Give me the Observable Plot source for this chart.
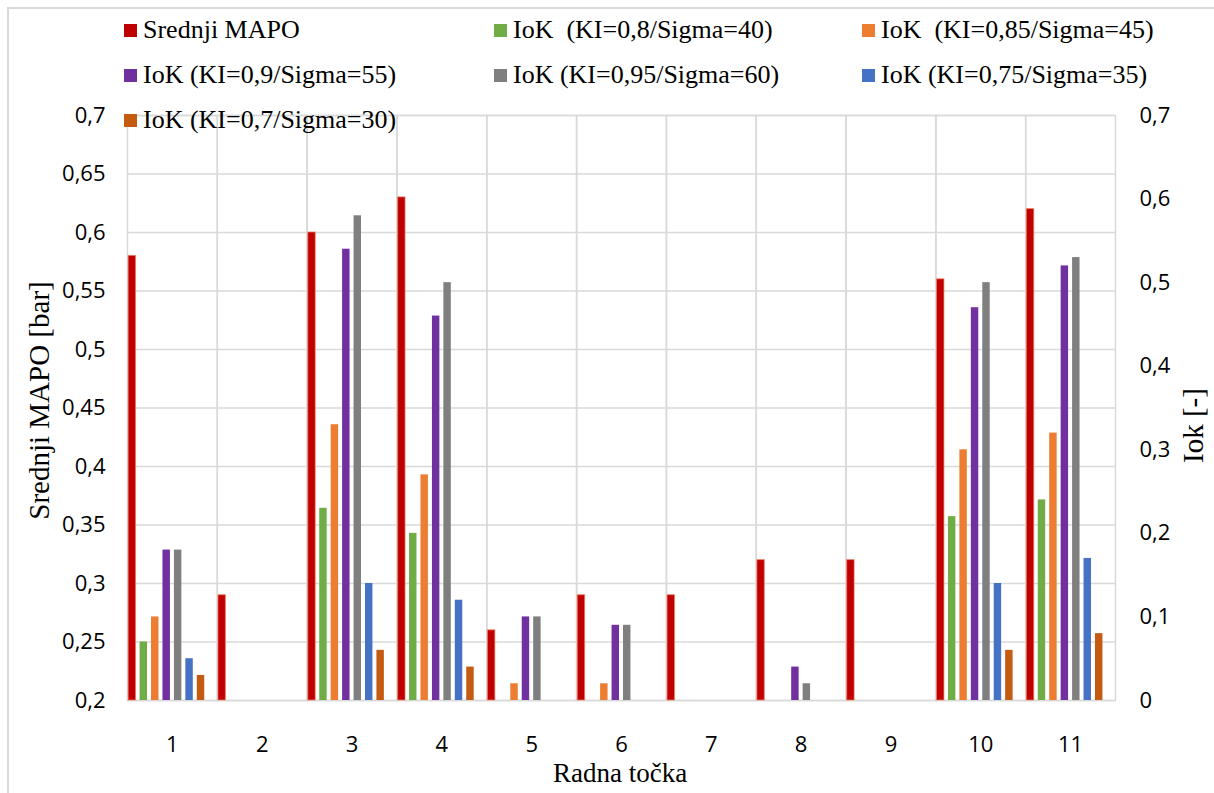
<!DOCTYPE html>
<html>
<head>
<meta charset="utf-8">
<script src="https://cdn.jsdelivr.net/npm/d3@7"></script>
<script src="https://cdn.jsdelivr.net/npm/@observablehq/plot@0.6"></script>
<style>
  html, body { margin: 0; padding: 0; background: #fff; overflow: hidden; }
  #wrap { position: relative; width: 1214px; height: 793px; overflow: hidden; }
  #border { position: absolute; left: 7px; top: 7px; width: 1400px; height: 1000px; border: 2px solid #d9d9d9; box-sizing: border-box; }
  #chart { position: absolute; left: 0; top: 0; }
  .serif { font-family: "Liberation Serif", "Tinos", "Times New Roman", "DejaVu Serif", "Noto Serif", serif; }
  .leg { position: absolute; font-size: 26px; color: #000; white-space: pre; line-height: 1; transform: translateY(-50%); }
  .leg i { display: inline-block; width: 13px; height: 13px; margin-right: 6px; vertical-align: 1px; }
  .title { position: absolute; font-size: 29px; color: #000; white-space: nowrap; line-height: 1; }
</style>
</head>
<body>
<div id="wrap">
  <div id="border"></div>
  <div id="chart"></div>
</div>
<script>
// ---- data ----
const categories = ["1", "2", "3", "4", "5", "6", "7", "8", "9", "10", "11"];
const seriesNames = [
  "Srednji MAPO",
  "IoK  (KI=0,8/Sigma=40)",
  "IoK  (KI=0,85/Sigma=45)",
  "IoK (KI=0,9/Sigma=55)",
  "IoK (KI=0,95/Sigma=60)",
  "IoK (KI=0,75/Sigma=35)",
  "IoK (KI=0,7/Sigma=30)"
];
const seriesColors = ["#C00000", "#70AD47", "#ED7D31", "#7030A0", "#7F7F7F", "#4472C4", "#C55A11"];

// Srednji MAPO [bar] (left axis)
const mapo    = [0.58, 0.29, 0.60, 0.63, 0.26, 0.29, 0.29, 0.32, 0.32, 0.56, 0.62];
// IoK [-] (right axis)
const iok08   = [0.07, null, 0.23, 0.20, null, null, null, null, null, 0.22, 0.24];
const iok085  = [0.10, null, 0.33, 0.27, 0.02, 0.02, null, null, null, 0.30, 0.32];
const iok09   = [0.18, null, 0.54, 0.46, 0.10, 0.09, null, 0.04, null, 0.47, 0.52];
const iok095  = [0.18, null, 0.58, 0.50, 0.10, 0.09, null, 0.02, null, 0.50, 0.53];
const iok075  = [0.05, null, 0.14, 0.12, null, null, null, null, null, 0.14, 0.17];
const iok07   = [0.03, null, 0.06, 0.04, null, null, null, null, null, 0.06, 0.08];

const leftDomain = [0.2, 0.7];
const rightDomain = [0, 0.7];
const leftTicks = [0.2, 0.25, 0.3, 0.35, 0.4, 0.45, 0.5, 0.55, 0.6, 0.65, 0.7];
const rightTicks = [0, 0.1, 0.2, 0.3, 0.4, 0.5, 0.6, 0.7];

// ---- build table ----
const toLeft = d3.scaleLinear().domain(rightDomain).range(leftDomain);
const iokSeries = [iok08, iok085, iok09, iok095, iok075, iok07];
const rows = [];
categories.forEach((c, i) => {
  rows.push({cat: c, series: seriesNames[0], y: mapo[i]});
  iokSeries.forEach((arr, k) => {
    if (arr[i] != null) rows.push({cat: c, series: seriesNames[k + 1], y: toLeft(arr[i])});
  });
});
const slots = [...seriesNames, "_empty"];
const fmt = v => String(+v.toFixed(2)).replace(".", ",");
const sans = "'Open Sans', sans-serif";

const chart = Plot.plot({
  width: 1214,
  height: 793,
  marginLeft: 127,
  marginRight: 99,
  marginTop: 115,
  marginBottom: 93,
  style: {background: "transparent", color: "#000"},
  fx: {domain: categories, padding: 0, round: false, label: null},
  x: {domain: slots, paddingInner: 0.35, paddingOuter: 0.1, round: false, axis: null},
  y: {domain: leftDomain, axis: null},
  color: {domain: seriesNames, range: seriesColors},
  marks: [
    Plot.gridY(leftTicks, {stroke: "#d9d9d9", strokeOpacity: 1, strokeWidth: 1.5}),
    Plot.frame({stroke: "#d9d9d9", strokeWidth: 1.5}),
    Plot.barY(rows, {
      fx: "cat", x: "series", y1: leftDomain[0], y2: "y", fill: "series",
      stroke: d => d.series === seriesNames[0] ? "#F08060" : "none",
      strokeWidth: 1, strokeOpacity: 0.7
    }),
    Plot.axisFx({anchor: "bottom", tickSize: 0, tickPadding: 36, fontSize: 22, label: null, fontFamily: sans}),
    Plot.axisY({anchor: "left", ticks: leftTicks, tickFormat: fmt, tickSize: 0, tickPadding: 22,
      fontSize: 22, label: null, fontFamily: sans}),
    Plot.axisY({anchor: "right", ticks: rightTicks.map(toLeft), tickFormat: v => fmt(toLeft.invert(v)),
      tickSize: 0, tickPadding: 24, fontSize: 22, label: null, fontFamily: sans})
  ]
});
document.getElementById("chart").appendChild(chart);

// ---- legend (HTML overlay) ----
const wrap = document.getElementById("wrap");
const legendLayout = [
  [0, 124, 30], [1, 494, 30], [2, 862, 30],
  [3, 124, 75], [4, 494, 75], [5, 862, 75],
  [6, 124, 120]
];
legendLayout.forEach(([k, x, y]) => {
  const d = document.createElement("div");
  d.className = "leg serif";
  d.style.left = x + "px";
  d.style.top = y + "px";
  const sw = document.createElement("i");
  sw.style.background = seriesColors[k];
  d.appendChild(sw);
  d.appendChild(document.createTextNode(seriesNames[k]));
  wrap.appendChild(d);
});

// ---- axis titles ----
function addTitle(text, cx, cy, rot, size) {
  const t = document.createElement("div");
  t.className = "title serif";
  if (size) t.style.fontSize = size + "px";
  t.textContent = text;
  wrap.appendChild(t);
  const w = t.offsetWidth, h = t.offsetHeight;
  t.style.left = (cx - w / 2) + "px";
  t.style.top = (cy - h / 2) + "px";
  if (rot) t.style.transform = `rotate(${rot}deg)`;
}
addTitle("Srednji MAPO [bar]", 39, 400, -90);
addTitle("Iok [-]", 1193, 425, -90);
addTitle("Radna točka", 620, 773, 0, 27);
</script>
</body>
</html>
